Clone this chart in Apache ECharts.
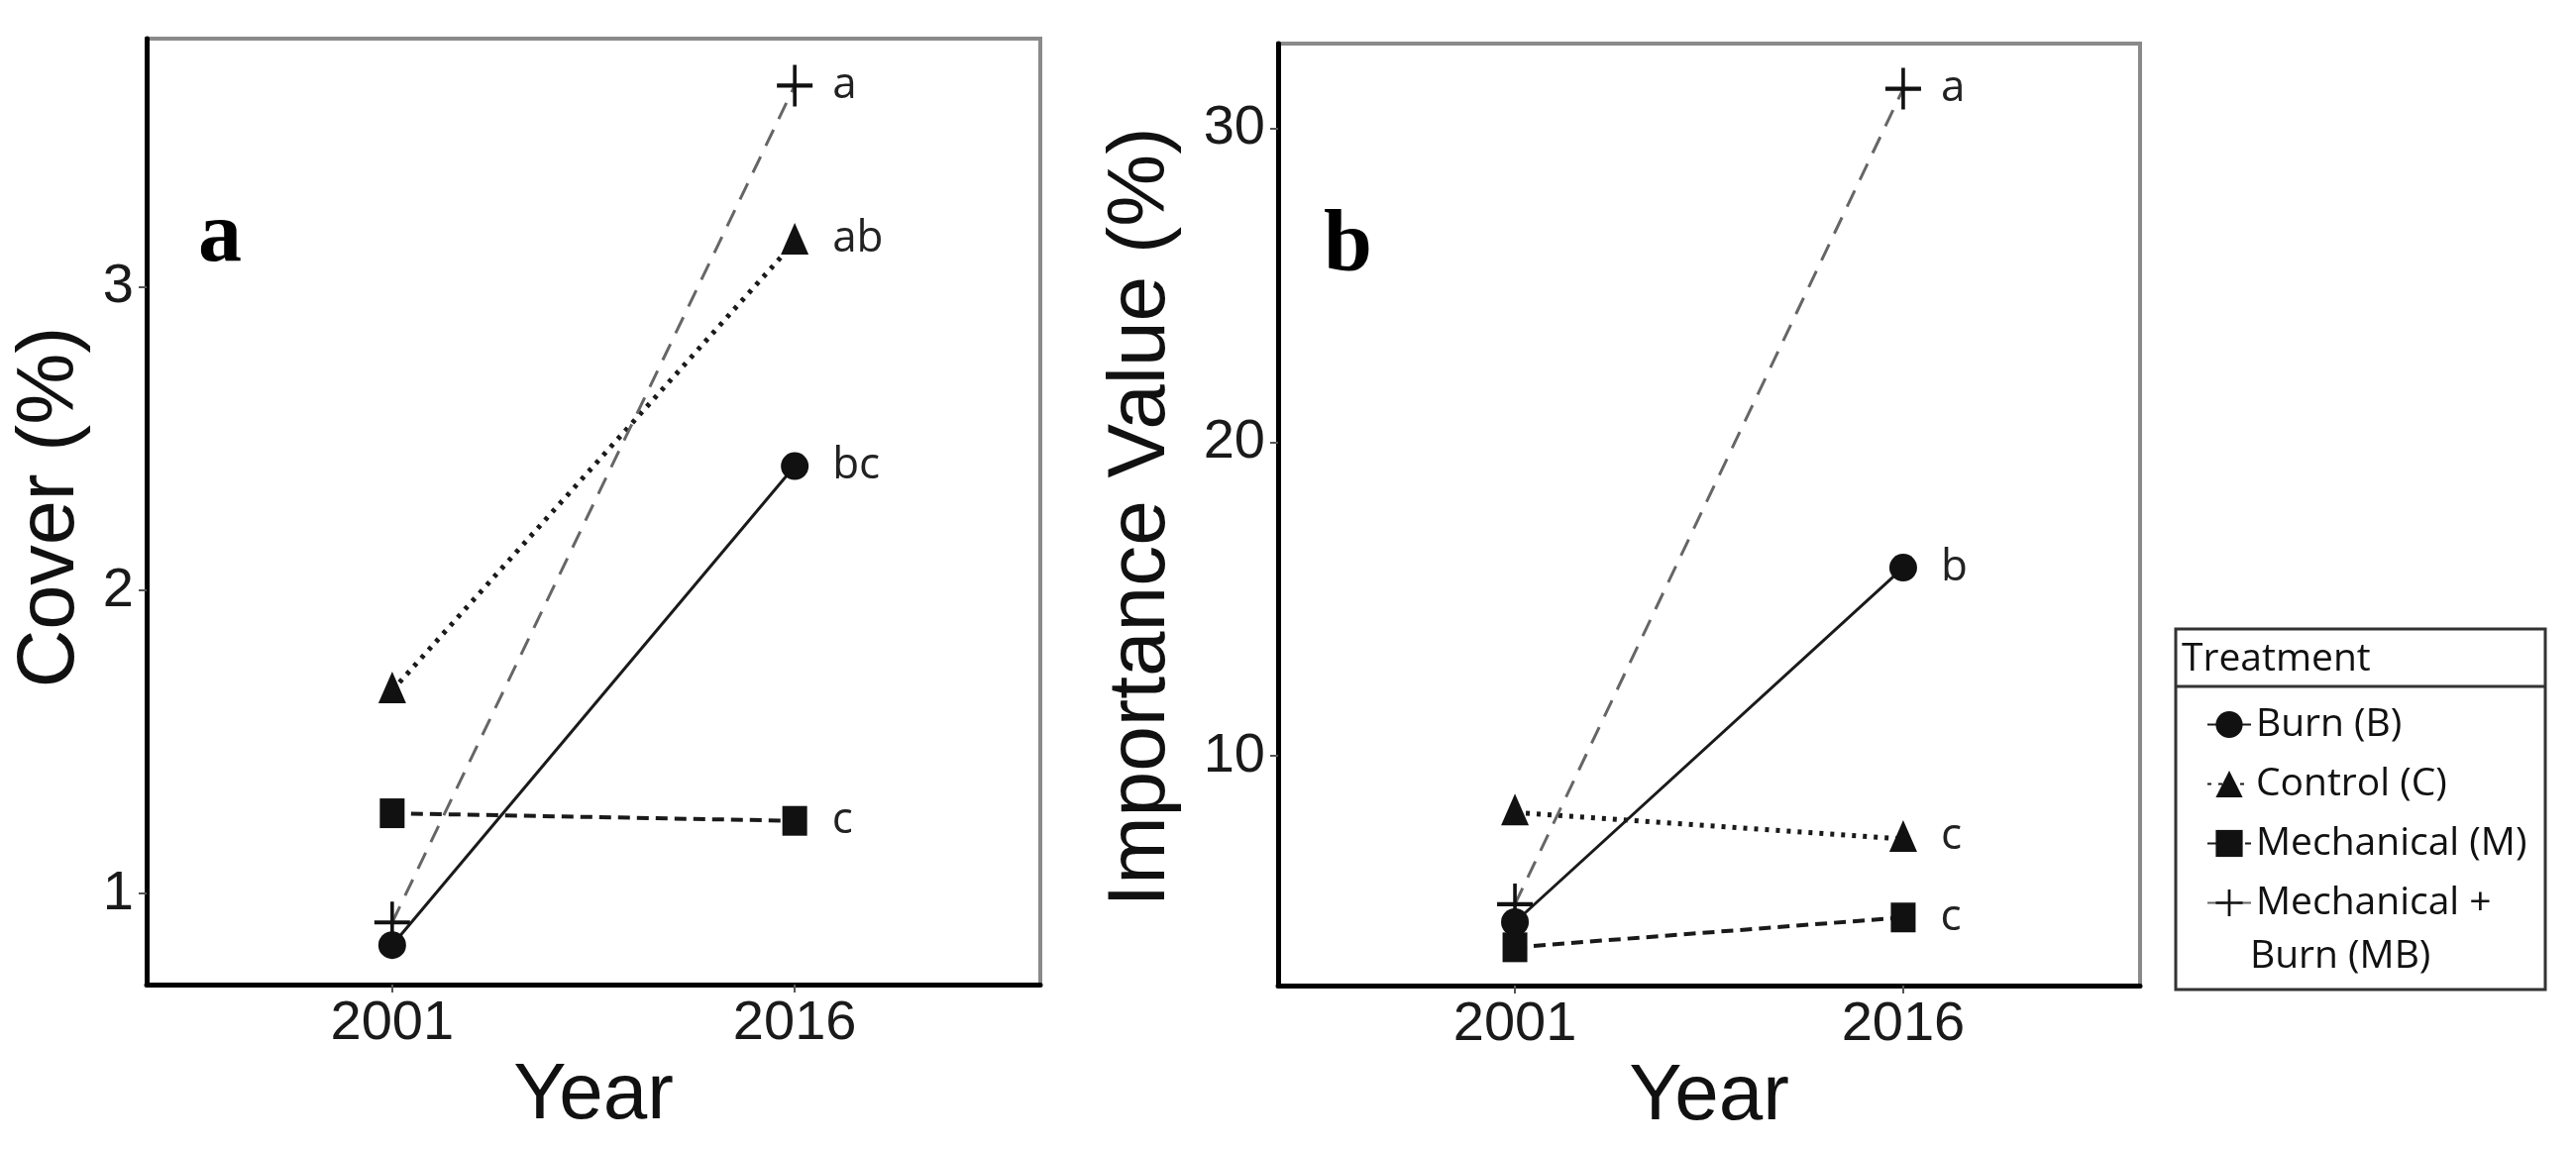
<!DOCTYPE html>
<html>
<head>
<meta charset="utf-8">
<script src="https://cdn.jsdelivr.net/npm/echarts@6/dist/echarts.min.js"></script>
<style>
  html, body { margin: 0; padding: 0; background: #fff; }
  #main { width: 2600px; height: 1160px; }
</style>
</head>
<body>
<div id="main"></div>
<script>
// values
var years = ['2001', '2016'];
var treatments = ['Burn (B)', 'Control (C)', 'Mechanical (M)', 'Mechanical + Burn (MB)'];

// panel a - cover (%)
var coverBurn = [0.83, 2.41];
var coverControl = [1.67, 3.15];
var coverMech = [1.265, 1.24];
var coverMB = [0.905, 3.665];
var coverLetters = ['bc', 'ab', 'c', 'a'];
var coverTicks = [1, 2, 3];

// panel b - importance value (%)
var ivBurn = [4.7, 16.0];
var ivControl = [8.2, 7.35];
var ivMech = [3.9, 4.85];
var ivMB = [5.27, 31.26];
var ivLetters = ['b', 'c', 'c', 'a'];
var ivTicks = [10, 20, 30];

var chart = echarts.init(document.getElementById('main'));

var sans = 'Liberation Sans';
var calib = 'Open Sans';
var plusPath = 'path://M-2,-20H2V-2H20V2H2V20H-2V2H-20V-2H-2Z';

// marker + line look for each treatment
var looks = [
    {symbol: 'circle', size: 28, offset: [0, 0], line: {type: 'solid', width: 3, color: '#1a1a1a'}, dist: 24},
    {symbol: 'triangle', size: [28, 32], offset: [0, -3], line: {type: [4, 7], width: 5, color: '#1a1a1a'}, dist: 24},
    {symbol: 'rect', size: [25, 30], offset: [0, 0], line: {type: [12, 7], width: 4, color: '#1a1a1a'}, dist: 25},
    {symbol: plusPath, size: [36, 42], offset: [0, 0], line: {type: [18, 12], width: 3, color: '#666'}, dist: 20}
];

function makeSeries(idx, vals, letter, gridIdx) {
    var lk = looks[idx];
    var data = vals.map(function (v, i) {
        var item = {value: [i, v]};
        if (i === vals.length - 1) {
            item.label = {show: true, formatter: letter};
        }
        return item;
    });
    return {
        name: treatments[idx],
        type: 'line',
        xAxisIndex: gridIdx,
        yAxisIndex: gridIdx,
        data: data,
        symbol: lk.symbol,
        symbolSize: lk.size,
        symbolOffset: lk.offset,
        symbolKeepAspect: false,
        showAllSymbol: true,
        itemStyle: {color: '#111', opacity: 1},
        lineStyle: {type: lk.line.type, width: lk.line.width, color: lk.line.color, cap: 'butt'},
        label: {
            show: false,
            position: 'right',
            distance: lk.dist,
            fontFamily: calib,
            fontSize: 44,
            color: '#222'
        },
        emphasis: {disabled: true},
        z: 3 + idx
    };
}

function xAxisFor(gridIdx) {
    return {
        type: 'value',
        gridIndex: gridIdx,
        min: -0.61,
        max: 1.61,
        name: 'Year',
        nameLocation: 'middle',
        nameGap: 67,
        nameTextStyle: {fontFamily: sans, fontSize: 80, color: '#111'},
        axisLine: {show: true, onZero: false, lineStyle: {color: '#000', width: 5}},
        axisTick: {show: true, length: 8, customValues: [0, 1], lineStyle: {color: '#555', width: 2}},
        axisLabel: {
            customValues: [0, 1],
            margin: 12,
            fontFamily: sans,
            fontSize: 56,
            color: '#1a1a1a',
            formatter: function (v) { return years[Math.round(v)]; }
        },
        splitLine: {show: false}
    };
}

function yAxisFor(gridIdx, lo, hi, ticks) {
    return {
        type: 'value',
        gridIndex: gridIdx,
        min: lo,
        max: hi,
        axisLine: {show: true, onZero: false, lineStyle: {color: '#000', width: 5}},
        axisTick: {show: true, length: 8, customValues: ticks, lineStyle: {color: '#555', width: 2}},
        axisLabel: {customValues: ticks, margin: 13, fontFamily: sans, fontSize: 56, color: '#1a1a1a'},
        splitLine: {show: false}
    };
}

var series = [
    makeSeries(0, coverBurn, coverLetters[0], 0),
    makeSeries(1, coverControl, coverLetters[1], 0),
    makeSeries(2, coverMech, coverLetters[2], 0),
    makeSeries(3, coverMB, coverLetters[3], 0),
    makeSeries(0, ivBurn, ivLetters[0], 1),
    makeSeries(1, ivControl, ivLetters[1], 1),
    makeSeries(2, ivMech, ivLetters[2], 1),
    makeSeries(3, ivMB, ivLetters[3], 1)
];

var option = {
    animation: false,
    backgroundColor: '#fff',
    grid: [
        {left: 148, top: 39, width: 902, height: 955, show: true, borderColor: '#8a8a8a', borderWidth: 4, backgroundColor: 'transparent'},
        {left: 1290, top: 44, width: 870, height: 951, show: true, borderColor: '#8a8a8a', borderWidth: 4, backgroundColor: 'transparent'}
    ],
    xAxis: [xAxisFor(0), xAxisFor(1)],
    yAxis: [
        yAxisFor(0, 0.70, 3.82, coverTicks),
        yAxisFor(1, 2.68, 32.7, ivTicks)
    ],
    legend: {
        orient: 'vertical',
        left: 2222,
        top: 706,
        itemWidth: 44,
        itemHeight: 34,
        itemGap: 19,
        selectedMode: false,
        data: treatments,
        textStyle: {fontFamily: calib, fontSize: 39, lineHeight: 41, color: '#111'},
        formatter: function (n) {
            return n === 'Mechanical + Burn (MB)' ? 'Mechanical +' : n;
        }
    },
    graphic: [
        // panel tags
        {type: 'text', left: 200, top: 196, style: {text: 'a', font: 'bold 88px "Liberation Serif"', fill: '#000'}},
        {type: 'text', left: 1336, top: 206, style: {text: 'b', font: 'bold 88px "Liberation Serif"', fill: '#000'}},
        // y titles
        {type: 'text', x: 52, y: 512, rotation: Math.PI / 2,
            style: {text: 'Cover (%)', font: '81px "Liberation Sans"', fill: '#111', align: 'center', verticalAlign: 'middle'}},
        {type: 'text', x: 1152, y: 522, rotation: Math.PI / 2,
            style: {text: 'Importance Value (%)', font: '82px "Liberation Sans"', fill: '#111', align: 'center', verticalAlign: 'middle'}},
        // legend frame
        {type: 'rect', shape: {x: 2196, y: 635, width: 373, height: 364},
            style: {fill: 'none', stroke: '#333', lineWidth: 3}, z: -1},
        {type: 'line', shape: {x1: 2196, y1: 693, x2: 2569, y2: 693},
            style: {stroke: '#333', lineWidth: 3}},
        {type: 'text', x: 2202, y: 666,
            style: {text: 'Treatment', font: '39px "Open Sans"', fill: '#111', verticalAlign: 'middle'}},
        {type: 'text', x: 2271, y: 966,
            style: {text: 'Burn (MB)', font: '39px "Open Sans"', fill: '#111', verticalAlign: 'middle'}}
    ],
    series: series
};

chart.setOption(option);
</script>
</body>
</html>
